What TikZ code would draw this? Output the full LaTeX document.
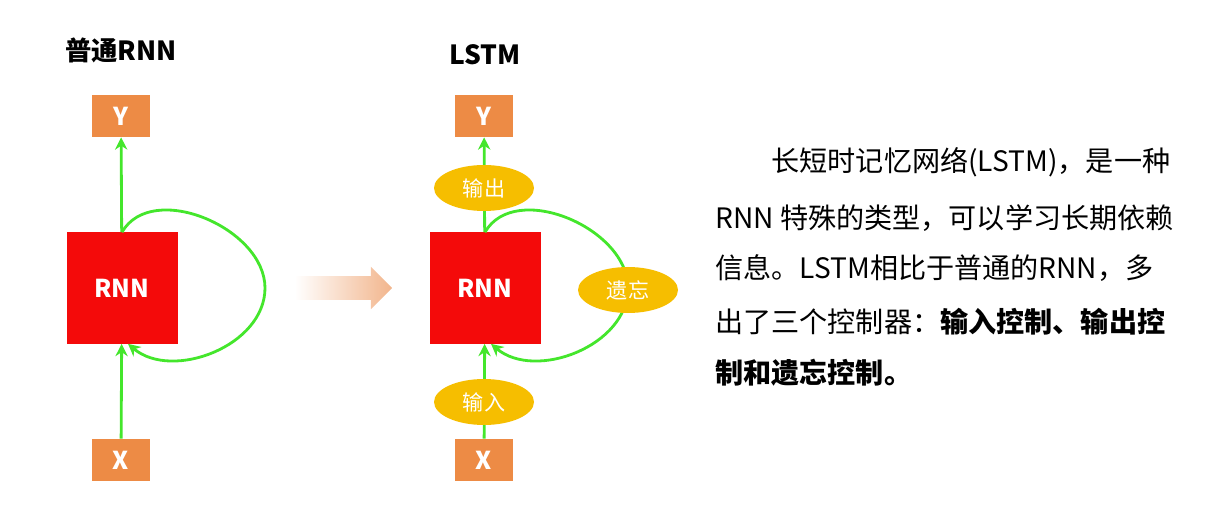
\documentclass[tikz,border=0pt]{standalone}
\usepackage{fontspec}
\setmainfont{Noto Sans CJK SC}
\usetikzlibrary{positioning, arrows.meta, shapes.arrows, shapes.geometric}
\definecolor{boxorange}{HTML}{ED8B45}
\definecolor{rnnred}{HTML}{F40A0A}
\definecolor{gateyellow}{HTML}{F6BE00}
\definecolor{loopgreen}{HTML}{44E62C}
\definecolor{peach}{HTML}{F2B58C}
\tikzset{
  io/.style={fill=boxorange, text=white, font=\bfseries\fontsize{14}{14}\selectfont, minimum width=1.16cm, minimum height=0.84cm, inner sep=0pt},
  cell/.style={fill=rnnred, text=white, font=\bfseries\fontsize{14}{14}\selectfont, minimum size=2.22cm, inner sep=0pt},
  gate/.style={ellipse, fill=gateyellow, text=white, font=\fontsize{12}{12}\selectfont, minimum width=2cm, minimum height=0.92cm, inner sep=0pt},
  flow/.style={loopgreen, line width=1.6pt, -{Stealth[length=7pt,width=7pt]}},
  title/.style={font=\bfseries\fontsize{15}{15}\selectfont},
  line/.style={anchor=west, font=\fontsize{16}{16}\selectfont, inner sep=0pt}
}
\begin{document}
\begin{tikzpicture}
  \useasboundingbox (0,0) rectangle (24.4,-10.4);
  % plain RNN
  \node[title] (t1) at (2.42,-1.0) {普通RNN};
  \node[io] (y1) at (2.42,-2.32) {Y};
  \node[cell] (c1) at (2.44,-5.76) {RNN};
  \node[io] (x1) at (2.42,-9.2) {X};
  \draw[flow] (x1) -- (c1);
  \draw[flow] (c1) -- (y1);
  \coordinate (r1) at (5.3,-5.76);
  \draw[flow] (c1.north) to[out=60,in=90] (r1) to[out=-90,in=-40] ([xshift=0.12cm]c1.south);
  % arrow between
  \node[single arrow, shape border rotate=0, draw=none, left color=white, right color=peach, minimum width=0.85cm, single arrow head extend=0.1cm, minimum height=1.95cm] (mid) at (6.75,-5.76) {};
  % LSTM
  \node[title] (t2) at (9.7,-1.1) {LSTM};
  \node[io] (y2) at (9.68,-2.32) {Y};
  \node[cell] (c2) at (9.7,-5.76) {RNN};
  \node[io] (x2) at (9.68,-9.2) {X};
  \draw[flow] (x2) -- (c2);
  \draw[flow] (c2) -- (y2);
  \coordinate (r2) at (12.56,-5.76);
  \draw[flow] (c2.north) to[out=60,in=90] (r2) to[out=-90,in=-40] ([xshift=0.12cm]c2.south);
  \node[gate] (out) at (9.68,-3.76) {输出};
  \node[gate] (forget) at (12.56,-5.8) {遗忘};
  \node[gate] (in) at (9.68,-8.04) {输入};
  % description
  \node[line] (l1) at (14.3,-3.24) {\hspace{2em}长短时记忆网络(LSTM)，是一种};
  \node[line] (l2) at (14.3,-4.36) {RNN 特殊的类型，可以学习长期依赖};
  \node[line] (l3) at (14.3,-5.36) {信息。LSTM相比于普通的RNN，多};
  \node[line] (l4) at (14.3,-6.44) {出了三个控制器：\textbf{输入控制、输出控}};
  \node[line] (l5) at (14.3,-7.46) {\textbf{制和遗忘控制。}};
\end{tikzpicture}
\end{document}
